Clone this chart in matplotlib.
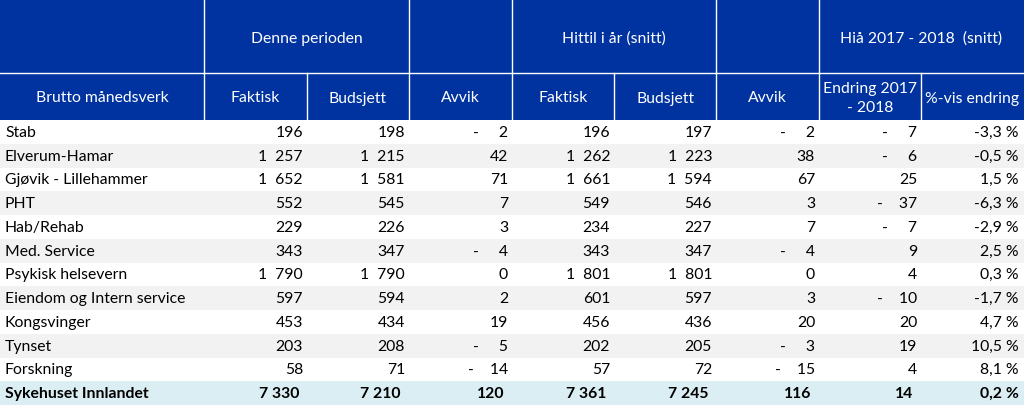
import matplotlib
matplotlib.use('Agg')
import matplotlib.pyplot as plt
from matplotlib.patches import Rectangle

plt.rcParams['font.family'] = ['Lato', 'DejaVu Sans']

# table data
units = ['Stab', 'Elverum-Hamar', 'Gjøvik - Lillehammer', 'PHT', 'Hab/Rehab',
         'Med. Service', 'Psykisk helsevern', 'Eiendom og Intern service',
         'Kongsvinger', 'Tynset', 'Forskning', 'Sykehuset Innlandet']
faktisk = [196, 1257, 1652, 552, 229, 343, 1790, 597, 453, 203, 58, 7330]
budsjett = [198, 1215, 1581, 545, 226, 347, 1790, 594, 434, 208, 71, 7210]
avvik = [-2, 42, 71, 7, 3, -4, 0, 2, 19, -5, -14, 120]
hittil_faktisk = [196, 1262, 1661, 549, 234, 343, 1801, 601, 456, 202, 57, 7361]
hittil_budsjett = [197, 1223, 1594, 546, 227, 347, 1801, 597, 436, 205, 72, 7245]
hittil_avvik = [-2, 38, 67, 3, 7, -4, 0, 3, 20, -3, -15, 116]
endring = [-7, -6, 25, -37, -7, 9, 4, -10, 20, 19, 4, 14]
pct_endring = [-3.3, -0.5, 1.5, -6.3, -2.9, 2.5, 0.3, -1.7, 4.7, 10.5, 8.1, 0.2]

group_labels = ['Denne perioden', 'Hittil i år (snitt)', 'Hiå 2017 - 2018  (snitt)']
col_labels = ['Brutto månedsverk', 'Faktisk', 'Budsjett', 'Avvik', 'Faktisk',
              'Budsjett', 'Avvik', 'Endring 2017\n- 2018', '%-vis endring']

BLUE = '#0033a0'
GRAY = '#f2f2f2'
TOTAL = '#daeef3'
EDGES = [0, 204, 307, 409, 512, 614, 716, 819, 921, 1024]
H1, H2 = 74, 121
RH = (406 - H2) / len(units)
FS = 11.3


def fmt(v, bold=False):
    s = f'{abs(v):,}'.replace(',', ' ' if bold else '  ')
    if v < 0:
        return '-' + ' ' * (6 - len(s)) + s
    return s


def fmt_pct(v):
    return f'{v:.1f}'.replace('.', ',') + ' %'


fig = plt.figure(figsize=(10.24, 4.06), dpi=100)
ax = fig.add_axes([0, 0, 1, 1])
ax.set_xlim(0, 1024)
ax.set_ylim(406, 0)
ax.axis('off')

# header background
ax.add_patch(Rectangle((0, 0), 1024, H2, color=BLUE, lw=0))
ax.plot([0, 1024], [H1, H1], color='white', lw=1)
for x in [204, 409, 512, 716, 819]:
    ax.plot([x, x], [0, H1], color='white', lw=1)
for x in EDGES[1:-1]:
    ax.plot([x, x], [H1, H2], color='white', lw=1)

group_spans = [(204, 409), (512, 716), (819, 1024)]
for (a, b), lab in zip(group_spans, group_labels):
    ax.text((a + b) / 2, H1 / 2 + 2, lab, color='white', fontsize=FS,
            ha='center', va='center')
for i, lab in enumerate(col_labels):
    ax.text((EDGES[i] + EDGES[i + 1]) / 2, (H1 + H2) / 2 + 1, lab, color='white',
            fontsize=FS, ha='center', va='center', linespacing=1.45)

# body rows
columns = [faktisk, budsjett, avvik, hittil_faktisk, hittil_budsjett,
           hittil_avvik, endring]
n = len(units)
for r in range(n):
    y0 = H2 + r * RH
    yc = y0 + RH / 2
    total = r == n - 1
    if total:
        ax.add_patch(Rectangle((0, y0), 1024, RH, color=TOTAL, lw=0))
    elif r % 2 == 1:
        ax.add_patch(Rectangle((0, y0), 1024, RH, color=GRAY, lw=0))
    weight = 'bold' if total else 'normal'
    pad = 8 if total else 4
    ax.text(5, yc, units[r], fontsize=FS, ha='left', va='center',
            color='black', fontweight=weight)
    for c, vals in enumerate(columns):
        ax.text(EDGES[c + 2] - pad, yc, fmt(vals[r], total), fontsize=FS,
                ha='right', va='center', color='black', fontweight=weight)
    ax.text(EDGES[-1] - 5, yc, fmt_pct(pct_endring[r]), fontsize=FS,
            ha='right', va='center', color='black', fontweight=weight)

fig.savefig('out.png', dpi=100)
